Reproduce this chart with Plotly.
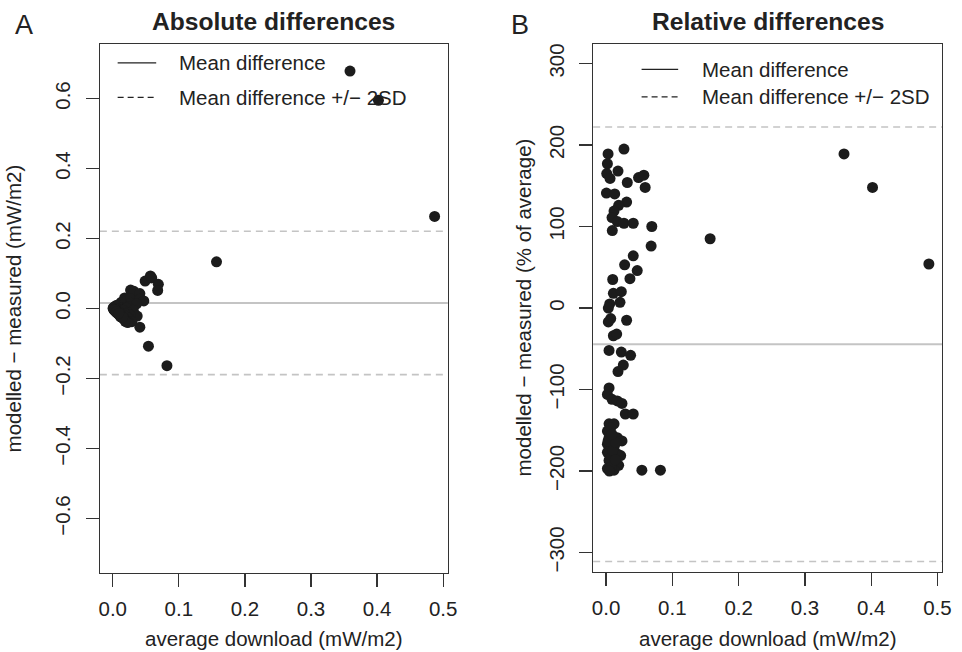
import plotly.graph_objects as go

# ---- data ----
avg_download = [0.027, 0.003, 0.002, 0.001, 0.006, 0.018, 0.032, 0.049, 0.057, 0.059,
                0.0005, 0.013, 0.031, 0.019, 0.012, 0.009, 0.017, 0.027, 0.041, 0.069,
                0.0094, 0.068, 0.041, 0.028, 0.047, 0.010, 0.036, 0.011, 0.023, 0.0055,
                0.021, 0.0034, 0.007, 0.0034, 0.031, 0.011, 0.016, 0.0045, 0.023, 0.037,
                0.026, 0.018, 0.0045, 0.002, 0.009, 0.017, 0.024, 0.029, 0.041, 0.0045,
                0.012, 0.002, 0.0045, 0.017, 0.024, 0.002, 0.012, 0.002, 0.017, 0.022,
                0.0045, 0.012, 0.019, 0.002, 0.012, 0.054, 0.082,
                0.006, 0.008, 0.003, 0.007, 0.010, 0.014, 0.005, 0.015, 0.009,
                0.157, 0.359, 0.402, 0.487]

abs_diff = [0.0527, 0.0057, 0.0035, 0.0017, 0.0095, 0.0302, 0.0493, 0.0784, 0.0929, 0.0873,
            0.0007, 0.0182, 0.0403, 0.0239, 0.0143, 0.0100, 0.0180, 0.0281, 0.0426, 0.0690,
            0.0089, 0.0517, 0.0262, 0.0148, 0.0216, 0.0035, 0.0130, 0.0020, 0.0046, 0.0003,
            0.0015, 0.0, -0.0009, -0.0006, -0.0047, -0.0037, -0.0051, -0.0023, -0.0124, -0.0215,
            -0.0182, -0.0140, -0.0044, -0.0021, -0.0101, -0.0194, -0.0281, -0.0377, -0.0533, -0.0064,
            -0.0170, -0.0030, -0.0072, -0.0270, -0.0391, -0.0033, -0.0205, -0.0035, -0.0304, -0.0398,
            -0.0084, -0.0229, -0.0367, -0.0039, -0.0239, -0.1075, -0.1632,
            -0.0111, -0.0156, -0.0049, -0.0103, -0.0175, -0.0260, -0.0100, -0.0248, -0.0140,
            0.1335, 0.6785, 0.5950, 0.2630]

rel_diff = [195, 189, 177, 165, 159, 168, 154, 160, 163, 148,
            141, 140, 130, 126, 119, 111, 106, 104, 104, 100,
            95, 76, 64, 53, 46, 35, 36, 18, 20, 5,
            7, 0, -13, -17, -15, -34, -32, -52, -54, -58,
            -70, -78, -98, -106, -112, -114, -117, -130, -130, -142,
            -142, -151, -159, -159, -163, -167, -171, -177, -179, -181,
            -187, -191, -193, -197, -199, -199, -199,
            -185, -195, -163, -147, -175, -186, -200, -165, -155,
            85, 189, 148, 54]

abs_mean = 0.016
abs_upper = 0.221
abs_lower = -0.189
rel_mean = -44.5
rel_upper = 222
rel_lower = -311

x_ticks = [0.0, 0.1, 0.2, 0.3, 0.4, 0.5]
x_ticktext = ["0.0", "0.1", "0.2", "0.3", "0.4", "0.5"]
abs_ticks = [-0.6, -0.4, -0.2, 0.0, 0.2, 0.4, 0.6]
abs_ticktext = ["\u22120.6", "\u22120.4", "\u22120.2", "0.0", "0.2", "0.4", "0.6"]
rel_ticks = [-300, -200, -100, 0, 100, 200, 300]
rel_ticktext = ["\u2212300", "\u2212200", "\u2212100", "0", "100", "200", "300"]

legend_labels = ["Mean difference", "Mean difference +/\u2212 2SD"]

# ---- layout helpers ----
W, H = 962, 652
FONT = "Liberation Sans, Arial, Helvetica, sans-serif"
TXT = "#222222"
AX = "#333333"
FS = 20.5


def fx(px):
    return px / W


def fy(py):
    return 1 - py / H


fig = go.Figure()
marker = dict(color="#1c1c1c", size=11, line=dict(width=0))
fig.add_trace(go.Scatter(x=avg_download, y=abs_diff, mode="markers", marker=marker,
                         xaxis="x", yaxis="y", showlegend=False, hoverinfo="skip"))
fig.add_trace(go.Scatter(x=avg_download, y=rel_diff, mode="markers", marker=marker,
                         xaxis="x2", yaxis="y2", showlegend=False, hoverinfo="skip"))

axis_common = dict(showgrid=False, zeroline=False, showline=True, mirror=True,
                   linecolor=AX, linewidth=1.3, ticks="outside", ticklen=13,
                   tickwidth=1.3, tickcolor=AX,
                   tickfont=dict(family=FONT, size=FS, color=TXT))

fig.update_layout(
    width=W, height=H,
    margin=dict(l=0, r=0, t=0, b=0),
    paper_bgcolor="white", plot_bgcolor="white",
    font=dict(family=FONT, size=FS, color=TXT),
    hovermode=False,
    xaxis=dict(domain=[fx(100), fx(452)], range=[-0.0195, 0.507], anchor="y",
               tickvals=x_ticks, ticktext=x_ticktext, ticklabelstandoff=4, **axis_common),
    yaxis=dict(domain=[fy(573), fy(43)], range=[-0.756, 0.756], anchor="x",
               tickvals=abs_ticks, ticktext=abs_ticktext, tickangle=-90,
               ticklabelstandoff=7, **axis_common),
    xaxis2=dict(domain=[fx(599), fx(952)], range=[-0.0195, 0.507], anchor="y2",
                tickvals=x_ticks, ticktext=x_ticktext, ticklabelstandoff=4, **axis_common),
    yaxis2=dict(domain=[fy(572), fy(43)], range=[-324, 324], anchor="x2",
                tickvals=rel_ticks, ticktext=rel_ticktext, tickangle=-90,
                ticklabelstandoff=7, **axis_common),
)

shapes = []
# reference lines
for ax_x, ax_y, mean, up, lo in [("x", "y", abs_mean, abs_upper, abs_lower),
                                  ("x2", "y2", rel_mean, rel_upper, rel_lower)]:
    shapes.append(dict(type="line", xref=f"{ax_x} domain", yref=ax_y, x0=0, x1=1,
                       y0=mean, y1=mean, line=dict(color="#c4c4c4", width=2), layer="below"))
    for v in (up, lo):
        shapes.append(dict(type="line", xref=f"{ax_x} domain", yref=ax_y, x0=0, x1=1,
                           y0=v, y1=v, line=dict(color="#c4c4c4", width=1.6, dash="7px,5px"),
                           layer="below"))

annotations = []
# legends (no box)
for (lx0, lx1, tx, rows) in [(118, 157, 178, (62, 96.5)), (648, 685, 707, (68.5, 96))]:
    for i, (label, ry) in enumerate(zip(legend_labels, rows)):
        shapes.append(dict(type="line", xref="paper", yref="paper",
                           x0=fx(lx0), x1=fx(lx1), y0=fy(ry), y1=fy(ry),
                           line=dict(color="#222222", width=1.3,
                                     dash="solid" if i == 0 else "6px,4px")))
        annotations.append(dict(text=label, xref="paper", yref="paper", x=fx(tx), y=fy(ry),
                                xanchor="left", yanchor="middle", showarrow=False,
                                font=dict(family=FONT, size=FS, color=TXT)))

# titles
for cx, title in [((100 + 452) / 2, "Absolute differences"), ((599 + 952) / 2, "Relative differences")]:
    annotations.append(dict(text=f"<b>{title}</b>", xref="paper", yref="paper", x=fx(cx), y=fy(21),
                            xanchor="center", yanchor="middle", showarrow=False,
                            font=dict(family=FONT, size=24.6, color=TXT)))
# panel letters
for cx, letter in [(23, "A"), (525, "B")]:
    annotations.append(dict(text=letter, xref="paper", yref="paper", x=fx(cx), y=fy(24),
                            xanchor="center", yanchor="middle", showarrow=False,
                            font=dict(family=FONT, size=27, color=TXT)))
# axis titles
for cx in [(100 + 452) / 2, (599 + 952) / 2]:
    annotations.append(dict(text="average download (mW/m2)", xref="paper", yref="paper",
                            x=fx(cx), y=fy(638), xanchor="center", yanchor="middle",
                            showarrow=False, font=dict(family=FONT, size=FS, color=TXT)))
for cx, cy, label in [(13, 308, "modelled \u2212 measured (mW/m2)"),
                      (529, 307, "modelled \u2212 measured (% of average)")]:
    annotations.append(dict(text=label, xref="paper", yref="paper", x=fx(cx), y=fy(cy),
                            xanchor="center", yanchor="middle", textangle=-90, borderpad=0,
                            showarrow=False, font=dict(family=FONT, size=FS, color=TXT)))

fig.update_layout(shapes=shapes, annotations=annotations)
fig.write_html("out.html", config={"displayModeBar": False, "staticPlot": True},
               post_script="document.body.style.margin='0';document.body.style.padding='0';")
